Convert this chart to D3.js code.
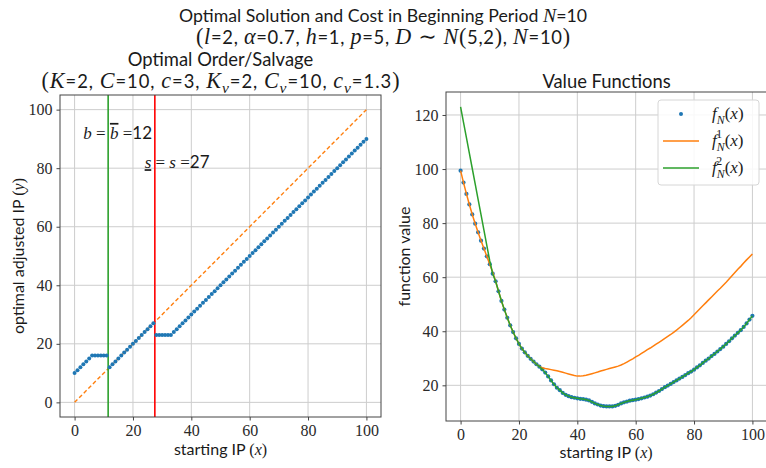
<!DOCTYPE html>
<html><head><meta charset="utf-8">
<script src="https://cdn.jsdelivr.net/npm/d3@7/dist/d3.min.js"></script>
<style>body{margin:0;background:#fff} svg{display:block}</style>
</head><body><svg id="c" width="766" height="468"></svg>
<script>
// ---------------- data ----------------
const startIP = d3.range(0, 101);           // x = 0..100
const optAdjusted = [10,11,12,13,14,15,16,16,16,16,16,16,
  12,13,14,15,16,17,18,19,20,21,22,23,24,25,26,27,
  23,23,23,23,23,23,
  24,25,26,27,28,29,30,31,32,33,34,35,36,37,38,39,40,41,42,43,44,45,46,47,48,49,50,51,52,53,54,55,56,57,
  58,59,60,61,62,63,64,65,66,67,68,69,70,71,72,73,74,75,76,77,78,79,80,81,82,83,84,85,86,87,88,89,90];
const diagonal = [[0,0],[100,100]];
const bLevel = 11.5, sLevel = 27.5;
const xTicks = [0,20,40,60,80,100];
const yTicksLeft = [0,20,40,60,80,100];
const yTicksRight = [20,40,60,80,100,120];

const f1 = [99.4,95.0,90.8,86.9,83.2,79.8,76.6,73.5,70.6,67.7,64.8,61.8,
  58.5,54.8,51.2,48.0,45.0,42.2,39.7,37.4,35.3,33.6,32.2,30.9,29.8,28.8,27.8,26.9,
  26.5,26.2,26.0,25.8,25.6,25.4,25.1,24.8,24.5,24.2,23.9,23.6,23.4,
  23.4,23.5,23.7,24.0,24.3,24.6,24.9,25.3,25.6,25.9,26.2,26.5,26.8,27.1,27.5,
  28.0,28.6,29.2,29.8,30.5,31.1,31.8,32.5,33.2,33.8,34.5,35.2,35.9,36.6,37.4,
  38.1,38.8,39.6,40.4,41.3,42.2,43.1,44.0,45.0,46.1,47.2,48.3,49.4,50.5,51.6,
  52.7,53.8,54.9,55.9,57.0,58.1,59.3,60.5,61.7,62.9,64.0,65.2,66.4,67.5,68.6];
const f2 = [123.0,117.3,111.6,105.9,100.2,94.5,88.8,83.1,77.4,71.7,66.0,61.3,
  58.5,54.8,51.2,48.0,45.0,42.2,39.7,37.4,35.3,33.6,32.2,30.9,29.8,28.8,27.8,26.9,
  25.9,24.7,23.3,21.8,20.4,19.1,18.2,17.2,16.5,16.0,15.6,15.4,15.2,
  15.0,14.9,14.7,14.4,13.9,13.3,12.9,12.5,12.3,12.2,12.2,12.2,12.4,12.8,13.3,
  13.7,14.0,14.3,14.5,14.7,14.9,15.2,15.5,15.8,16.2,16.7,17.3,17.9,18.6,19.3,
  19.9,20.5,21.2,21.8,22.5,23.1,23.8,24.5,25.1,25.8,26.6,27.4,28.3,29.1,29.9,
  30.8,31.6,32.5,33.4,34.3,35.3,36.3,37.4,38.4,39.4,40.4,41.6,42.9,44.3,45.7];
const fN = [99.4,95.0,90.8,86.9,83.2,79.8,76.6,73.5,70.6,67.7,64.8,61.3,
  58.5,54.8,51.2,48.0,45.0,42.2,39.7,37.4,35.3,33.6,32.2,30.9,29.8,28.8,27.8,26.9,
  25.9,24.7,23.3,21.8,20.4,19.1,18.2,17.2,16.5,16.0,15.6,15.4,15.2,
  15.0,14.9,14.7,14.4,13.9,13.3,12.9,12.5,12.3,12.2,12.2,12.2,12.4,12.8,13.3,
  13.7,14.0,14.3,14.5,14.7,14.9,15.2,15.5,15.8,16.2,16.7,17.3,17.9,18.6,19.3,
  19.9,20.5,21.2,21.8,22.5,23.1,23.8,24.5,25.1,25.8,26.6,27.4,28.3,29.1,29.9,
  30.8,31.6,32.5,33.4,34.3,35.3,36.3,37.4,38.4,39.4,40.4,41.6,42.9,44.3,45.7];

// ---------------- helpers ----------------
const SANS = "Lato, 'Open Sans', sans-serif";
const SERIF = "'Liberation Serif', 'DejaVu Serif', serif";
const INK = "#1a1a1a";
const svg = d3.select('#c');

function rich(parent, x, y, segs, size, anchor, mathScale, subK, supK) {
  const ms = mathScale || 1, sk = subK || 0.28, pk = supK || 0.42;
  const t = parent.append('text').attr('x', x).attr('y', y)
    .attr('font-size', size).attr('text-anchor', anchor || 'middle').attr('fill', INK);
  let shift = 0;
  segs.forEach(s => {
    const sp = t.append('tspan').text(s.t);
    let base = s.f === 's' ? size : size * ms;
    let target = 0, fs = base;
    if (s.sub) { target = size * sk; fs = base * 0.7; }
    if (s.sup) { target = -size * pk; fs = base * 0.7; }
    sp.attr('dy', target - shift); shift = target;
    if (s.dx) sp.attr('dx', s.dx);
    if (s.deco) sp.attr('text-decoration', s.deco);
    sp.attr('font-size', fs);
    sp.attr('font-family', s.f === 's' ? SANS : SERIF);
    if (s.f === 'i') sp.attr('font-style', 'italic');
  });
  return t;
}
const S = t => ({t, f:'s'}), R = t => ({t, f:'r'}), I = t => ({t, f:'i'});

function frame(g, x, y, yTicks, w, h) {
  g.append('g').selectAll('line').data(xTicks).join('line')
    .attr('x1', d => x(d)).attr('x2', d => x(d)).attr('y1', 0).attr('y2', h)
    .attr('stroke', '#cdcdcd').attr('stroke-width', 1);
  g.append('g').selectAll('line').data(yTicks).join('line')
    .attr('y1', d => y(d)).attr('y2', d => y(d)).attr('x1', 0).attr('x2', w)
    .attr('stroke', '#cdcdcd').attr('stroke-width', 1);
}
function axes(g, x, y, yTicks, w, h) {
  const ax = g.append('g').attr('transform', `translate(0,${h})`)
    .call(d3.axisBottom(x).tickValues(xTicks).tickSize(3.5).tickPadding(4).tickFormat(d3.format('d')));
  const ay = g.append('g')
    .call(d3.axisLeft(y).tickValues(yTicks).tickSize(3.5).tickPadding(4).tickFormat(d3.format('d')));
  [ax, ay].forEach(a => {
    a.select('.domain').remove();
    a.selectAll('line').attr('stroke', '#444');
    a.selectAll('text').attr('font-family', SERIF).attr('font-size', 16).attr('fill', '#2a2a2a');
  });
  g.append('rect').attr('x', 0).attr('y', 0).attr('width', w).attr('height', h)
    .attr('fill', 'none').attr('stroke', '#444').attr('stroke-width', 1);
}

// ---------------- titles ----------------
rich(svg, 383, 22, [S('Optimal Solution and Cost in Beginning Period '), I('N'), S('=10')], 17.7, 'middle', 1.12);
rich(svg, 383, 44, [R('('), I('l'), S('=2, '), I('α'), S('=0.7, '), I('h'), S('=1, '), I('p'), S('=5, '),
  I('D'), R(' ∼ '), I('N'), R('('), S('5,2'), R(')'), S(', '), I('N'), S('=10'), R(')')], 18.4, 'middle', 1.2)
  .attr('textLength', 374).attr('lengthAdjust', 'spacing');

// ---------------- left panel ----------------
const L = {x: 60, y: 95, w: 321, h: 322};
const gL = svg.append('g').attr('transform', `translate(${L.x},${L.y})`);
const xL = d3.scaleLinear().domain([-5, 105]).range([0, L.w]);
const yL = d3.scaleLinear().domain([-5, 105]).range([L.h, 0]);
frame(gL, xL, yL, yTicksLeft, L.w, L.h);

gL.append('path').datum(diagonal)
  .attr('d', d3.line().x(d => xL(d[0])).y(d => yL(d[1])))
  .attr('fill', 'none').attr('stroke', '#ff7f0e').attr('stroke-width', 1.4).attr('stroke-dasharray', '4,2.5');
gL.append('line').attr('x1', xL(bLevel)).attr('x2', xL(bLevel)).attr('y1', 0).attr('y2', L.h)
  .attr('stroke', '#2ca02c').attr('stroke-width', 1.6);
gL.append('line').attr('x1', xL(sLevel)).attr('x2', xL(sLevel)).attr('y1', 0).attr('y2', L.h)
  .attr('stroke', '#ff0000').attr('stroke-width', 1.6);
gL.append('g').selectAll('circle').data(startIP).join('circle')
  .attr('cx', d => xL(d)).attr('cy', (d, i) => yL(optAdjusted[i])).attr('r', 2)
  .attr('fill', '#1f77b4');

rich(gL, xL(3), yL(90), [I('b'), R(' = '), {t:'b', f:'i', deco:'overline'}, R(' ='), S('12')], 17, 'start');
rich(gL, xL(24), yL(80), [{t:'s', f:'i', deco:'underline'}, R(' = '), I('s'), R(' ='), S('27')], 17, 'start');

axes(gL, xL, yL, yTicksLeft, L.w, L.h);

rich(svg, L.x + L.w / 2, 66, [S('Optimal Order/Salvage')], 18.4);
rich(svg, L.x + L.w / 2, 88, [R('('), I('K'), S('=2, '), I('C'), S('=10, '), I('c'), S('=3, '),
  I('K'), {t:'v', f:'i', sub:true}, S('=2, '), I('C'), {t:'v', f:'i', sub:true}, S('=10, '),
  I('c'), {t:'v', f:'i', sub:true}, S('=1.3'), R(')')], 18.4, 'middle', 1.2)
  .attr('textLength', 358).attr('lengthAdjust', 'spacing');
rich(svg, L.x + L.w / 2, 455, [S('starting IP '), R('('), I('x'), R(')')], 16);
rich(svg.append('g').attr('transform', `translate(24,${L.y + L.h / 2}) rotate(-90)`), 0, 0,
  [S('optimal adjusted IP '), R('('), I('y'), R(')')], 16);

// ---------------- right panel ----------------
const Rp = {x: 446, y: 92, w: 321, h: 329};
const gR = svg.append('g').attr('transform', `translate(${Rp.x},${Rp.y})`);
const xR = d3.scaleLinear().domain([-5, 105]).range([0, Rp.w]);
const yR = d3.scaleLinear().domain([6.8, 128.5]).range([Rp.h, 0]);
frame(gR, xR, yR, yTicksRight, Rp.w, Rp.h);

gR.append('g').selectAll('circle').data(startIP).join('circle')
  .attr('cx', d => xR(d)).attr('cy', (d, i) => yR(fN[i])).attr('r', 2.1)
  .attr('fill', '#1f77b4');
const lineR = d3.line().x((d, i) => xR(startIP[i])).y(d => yR(d));
gR.append('path').datum(f1).attr('d', lineR).attr('fill', 'none').attr('stroke', '#ff7f0e').attr('stroke-width', 1.5);
gR.append('path').datum(f2).attr('d', lineR).attr('fill', 'none').attr('stroke', '#2ca02c').attr('stroke-width', 1.5);

axes(gR, xR, yR, yTicksRight, Rp.w, Rp.h);

// legend
const lg = gR.append('g').attr('transform', 'translate(212,8)');
lg.append('rect').attr('x', 0).attr('y', 0).attr('width', 101).attr('height', 85).attr('rx', 3)
  .attr('fill', '#fff').attr('fill-opacity', 0.85).attr('stroke', '#d6d6d6');
const legendItems = [
  {kind: 'dot', color: '#1f77b4', sup: null},
  {kind: 'line', color: '#ff7f0e', sup: '1'},
  {kind: 'line', color: '#2ca02c', sup: '2'}
];
legendItems.forEach((it, i) => {
  const cy = 14 + i * 27;
  if (it.kind === 'dot') lg.append('circle').attr('cx', 23).attr('cy', cy).attr('r', 2).attr('fill', it.color);
  else lg.append('line').attr('x1', 5).attr('x2', 41).attr('y1', cy).attr('y2', cy).attr('stroke', it.color).attr('stroke-width', 1.5);
  const lab = [I('f'), {t:'N', f:'i', sub:true}];
  if (it.sup) lab.push({t: it.sup, f:'r', sup:true, dx:-8.5}, {t:'(', f:'r', dx:2.5});
  else lab.push(R('('));
  lab.push(I('x'), R(')'));
  rich(lg, 54, cy + 5, lab, 17, 'start', 1, 0.31, 0.5);
});

rich(svg, Rp.x + Rp.w / 2, 88, [S('Value Functions')], 18.4);
rich(svg, 606, 458, [S('starting IP '), R('('), I('x'), R(')')], 16);
rich(svg.append('g').attr('transform', `translate(410,${Rp.y + Rp.h / 2}) rotate(-90)`), 0, 0,
  [S('function value')], 16);
</script></body></html>
